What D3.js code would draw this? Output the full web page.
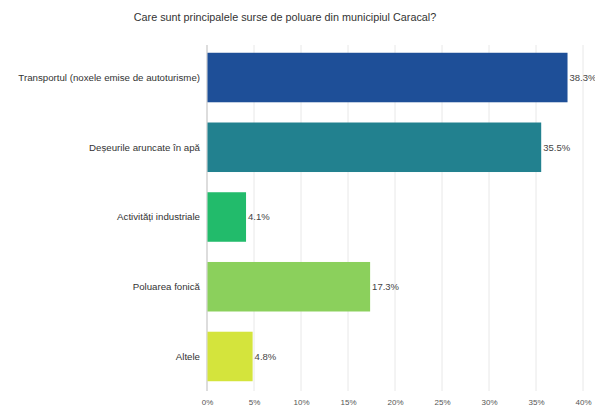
<!DOCTYPE html>
<html>
<head>
<meta charset="utf-8">
<script src="https://cdn.jsdelivr.net/npm/d3@7"></script>
<style>
  body { margin: 0; background: #fff; }
  svg { display: block; font-family: "Liberation Sans", Arial, sans-serif; }
</style>
</head>
<body>
<svg width="595" height="411"></svg>
<script>
const categories = ['Transportul (noxele emise de autoturisme)', 'Deșeurile aruncate în apă', 'Activități industriale', 'Poluarea fonică', 'Altele'];
const values = [38.3, 35.5, 4.1, 17.3, 4.8];
const colors = ['#1e4f98', '#22818f', '#22bb6b', '#8bd05c', '#d4e43c'];
const ticks = [0, 5, 10, 15, 20, 25, 30, 35, 40];

function makeChart() {
	const svg = d3.select('svg');
	const x = d3.scaleLinear().domain([0, 40]).range([207, 583]);
	const y = d3.scaleBand().domain(categories).range([43, 391]).paddingInner(0.29).paddingOuter(0.14);

	svg.append('text')
		.attr('x', 285).attr('y', 21)
		.attr('text-anchor', 'middle')
		.attr('font-size', 10.8)
		.attr('fill', '#333')
		.text('Care sunt principalele surse de poluare din municipiul Caracal?');

	// grid
	svg.append('g').selectAll('line').data(ticks.slice(1))
	  .enter().append('line')
		.attr('x1', d => x(d)).attr('x2', d => x(d))
		.attr('y1', 45).attr('y2', 391)
		.attr('stroke', '#e8e8e8').attr('stroke-width', 1);

	const xAxis = svg.append('g')
		.attr('transform', 'translate(0,391)')
		.call(d3.axisBottom(x).tickValues(ticks).tickFormat(d => d + '%').tickSize(0).tickPadding(8));
	xAxis.select('.domain').remove();
	xAxis.selectAll('text').attr('font-size', 8).attr('fill', '#555').attr('font-family', '"Liberation Sans", Arial, sans-serif');

	svg.append('line')
		.attr('x1', x(0)).attr('x2', x(0))
		.attr('y1', 45).attr('y2', 391)
		.attr('stroke', '#bbb');

	svg.append('g').selectAll('rect').data(values)
	  .enter().append('rect')
		.attr('x', x(0) + 0.5)
		.attr('y', (d, i) => y(categories[i]))
		.attr('width', d => x(d) - x(0))
		.attr('height', y.bandwidth())
		.attr('fill', (d, i) => colors[i]);

	svg.append('g').selectAll('text').data(values)
	  .enter().append('text')
		.attr('x', d => x(d) + 2.5)
		.attr('y', (d, i) => y(categories[i]) + y.bandwidth() / 2)
		.attr('dy', '0.35em')
		.attr('font-size', 9.5)
		.attr('fill', '#444')
		.text(d => d.toFixed(1) + '%');

	svg.append('g').selectAll('text').data(categories)
	  .enter().append('text')
		.attr('x', 200)
		.attr('y', d => y(d) + y.bandwidth() / 2)
		.attr('dy', '0.35em')
		.attr('text-anchor', 'end')
		.attr('font-size', 9.7)
		.attr('fill', '#333')
		.text(d => d);
}

makeChart();
</script>
</body>
</html>
